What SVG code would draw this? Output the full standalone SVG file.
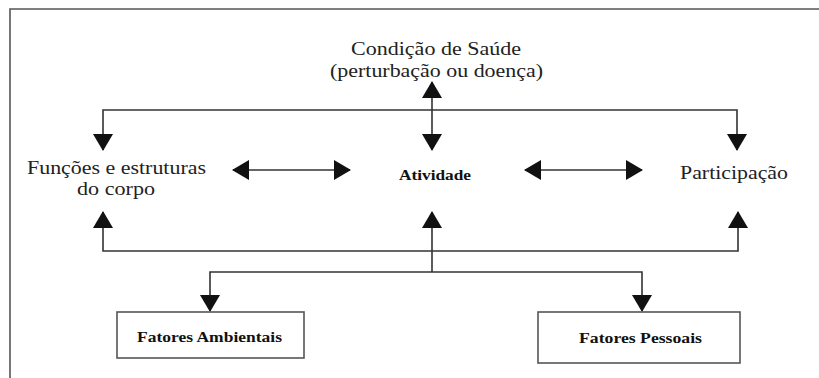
<svg xmlns="http://www.w3.org/2000/svg" width="819" height="378" viewBox="0 0 819 378">
<style>
text{font-family:'Liberation Serif','DejaVu Serif','Times New Roman',Times,serif}
.t{font-size:19px;fill:#222;text-anchor:middle}
.b{font-weight:bold;fill:#111;text-anchor:middle}
.c{fill:none;stroke:#333;stroke-width:1.6}
.box{fill:#fff;stroke:#555;stroke-width:1.6}
.frame{fill:none;stroke:#555;stroke-width:1.6}
</style>
<defs>
<marker id="ah" viewBox="0 0 17 20" refX="16" refY="10" markerWidth="17" markerHeight="20" markerUnits="userSpaceOnUse" orient="auto-start-reverse">
<path d="M0,0 L17,10 L0,20 z" fill="#111"/>
</marker>
</defs>
<rect width="819" height="378" fill="#fff"/>
<path class="frame" d="M10,378 V9 H819"/>
<g id="connectors">
<path class="c" d="M432,110 H103 V150" marker-end="url(#ah)"/>
<path class="c" d="M432,110 H737 V150" marker-end="url(#ah)"/>
<path class="c" d="M432,82 V150" marker-start="url(#ah)" marker-end="url(#ah)"/>
<path class="c" d="M233,170 H350" marker-start="url(#ah)" marker-end="url(#ah)"/>
<path class="c" d="M525,170 H642" marker-start="url(#ah)" marker-end="url(#ah)"/>
<path class="c" d="M432,251 H103 V212" marker-end="url(#ah)"/>
<path class="c" d="M432,251 H738 V212" marker-end="url(#ah)"/>
<path class="c" d="M432,272 V212" marker-end="url(#ah)"/>
<path class="c" d="M432,272 H210 V311" marker-end="url(#ah)"/>
<path class="c" d="M432,272 H642 V311" marker-end="url(#ah)"/>
</g>
<g id="condicao">
<text class="t" x="436" y="55" textLength="170" lengthAdjust="spacingAndGlyphs">Condição de Saúde</text>
<text class="t" x="436.5" y="77" textLength="213" lengthAdjust="spacingAndGlyphs">(perturbação ou doença)</text>
</g>
<g id="funcoes">
<text class="t" x="116.5" y="174" textLength="179" lengthAdjust="spacingAndGlyphs">Funções e estruturas</text>
<text class="t" x="116" y="195" textLength="78" lengthAdjust="spacingAndGlyphs">do corpo</text>
</g>
<g id="atividade">
<text class="b" x="435" y="180" font-size="14" textLength="72" lengthAdjust="spacingAndGlyphs">Atividade</text>
</g>
<g id="participacao">
<text class="t" x="734" y="179" textLength="108" lengthAdjust="spacingAndGlyphs">Participação</text>
</g>
<g id="fatores-ambientais">
<rect class="box" x="117" y="312" width="187" height="46"/>
<text class="b" x="209.5" y="342" font-size="15" textLength="145" lengthAdjust="spacingAndGlyphs">Fatores Ambientais</text>
</g>
<g id="fatores-pessoais">
<rect class="box" x="538" y="312" width="202" height="51"/>
<text class="b" x="640.5" y="343" font-size="15" textLength="123" lengthAdjust="spacingAndGlyphs">Fatores Pessoais</text>
</g>
</svg>
